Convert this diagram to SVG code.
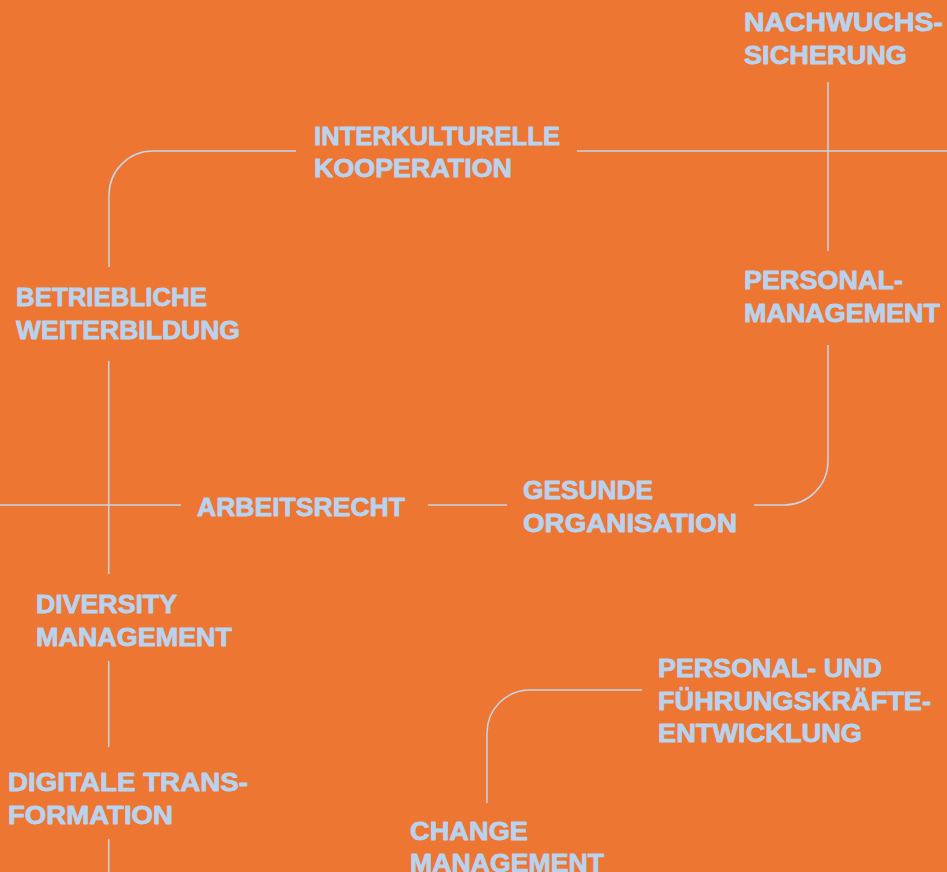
<svg xmlns="http://www.w3.org/2000/svg" width="947" height="872" viewBox="0 0 947 872">
<style>
.bg{fill:#EC7632}
.c{fill:none;stroke:#C6D5E6;stroke-width:1.5}
.t{font-family:"Liberation Sans",Arial,sans-serif;font-weight:bold;font-size:26px;fill:#B9D3EE;stroke:#B9D3EE;stroke-width:0.8;stroke-linejoin:round}
</style>
<rect class="bg" x="0" y="0" width="947" height="872"/>
<g id="connectors">
<path class="c" d="M109,267 V195 A44,44 0 0 1 153,151 H296"/>
<path class="c" d="M577,151 H947"/>
<path class="c" d="M828,82 V251"/>
<path class="c" d="M828,345 V461 A44,44 0 0 1 784,505 H754"/>
<path class="c" d="M0,505 H181"/>
<path class="c" d="M108.7,361 V574"/>
<path class="c" d="M428,505 H507"/>
<path class="c" d="M108.7,661 V747"/>
<path class="c" d="M108.7,839 V872"/>
<path class="c" d="M642,690 H530 A43,43 0 0 0 487,733 V803"/>
</g>
<g id="nachwuchssicherung">
<text class="t" x="744" y="31" textLength="199" lengthAdjust="spacingAndGlyphs">NACHWUCHS-</text>
<text class="t" x="744" y="64" textLength="163" lengthAdjust="spacingAndGlyphs">SICHERUNG</text>
</g>
<g id="interkulturelle-kooperation">
<text class="t" x="314" y="145" textLength="246" lengthAdjust="spacingAndGlyphs">INTERKULTURELLE</text>
<text class="t" x="314" y="177" textLength="198" lengthAdjust="spacingAndGlyphs">KOOPERATION</text>
</g>
<g id="personalmanagement">
<text class="t" x="744" y="289" textLength="159" lengthAdjust="spacingAndGlyphs">PERSONAL-</text>
<text class="t" x="744" y="322" textLength="196" lengthAdjust="spacingAndGlyphs">MANAGEMENT</text>
</g>
<g id="betriebliche-weiterbildung">
<text class="t" x="16" y="306" textLength="191" lengthAdjust="spacingAndGlyphs">BETRIEBLICHE</text>
<text class="t" x="16" y="339" textLength="224" lengthAdjust="spacingAndGlyphs">WEITERBILDUNG</text>
</g>
<g id="arbeitsrecht">
<text class="t" x="197" y="516" textLength="208" lengthAdjust="spacingAndGlyphs">ARBEITSRECHT</text>
</g>
<g id="gesunde-organisation">
<text class="t" x="523" y="499" textLength="130" lengthAdjust="spacingAndGlyphs">GESUNDE</text>
<text class="t" x="523" y="532" textLength="214" lengthAdjust="spacingAndGlyphs">ORGANISATION</text>
</g>
<g id="diversity-management">
<text class="t" x="36" y="613" textLength="141" lengthAdjust="spacingAndGlyphs">DIVERSITY</text>
<text class="t" x="36" y="646" textLength="196" lengthAdjust="spacingAndGlyphs">MANAGEMENT</text>
</g>
<g id="fuehrungskraefteentwicklung">
<text class="t" x="658" y="677" textLength="224" lengthAdjust="spacingAndGlyphs">PERSONAL- UND</text>
<text class="t" x="658" y="710" textLength="273" lengthAdjust="spacingAndGlyphs">FÜHRUNGSKRÄFTE-</text>
<text class="t" x="658" y="742" textLength="204" lengthAdjust="spacingAndGlyphs">ENTWICKLUNG</text>
</g>
<g id="digitale-transformation">
<text class="t" x="8" y="791" textLength="240" lengthAdjust="spacingAndGlyphs">DIGITALE TRANS-</text>
<text class="t" x="8" y="824" textLength="165" lengthAdjust="spacingAndGlyphs">FORMATION</text>
</g>
<g id="change-management">
<text class="t" x="410" y="840" textLength="118" lengthAdjust="spacingAndGlyphs">CHANGE</text>
<text class="t" x="410" y="872" textLength="194" lengthAdjust="spacingAndGlyphs">MANAGEMENT</text>
</g>
</svg>
